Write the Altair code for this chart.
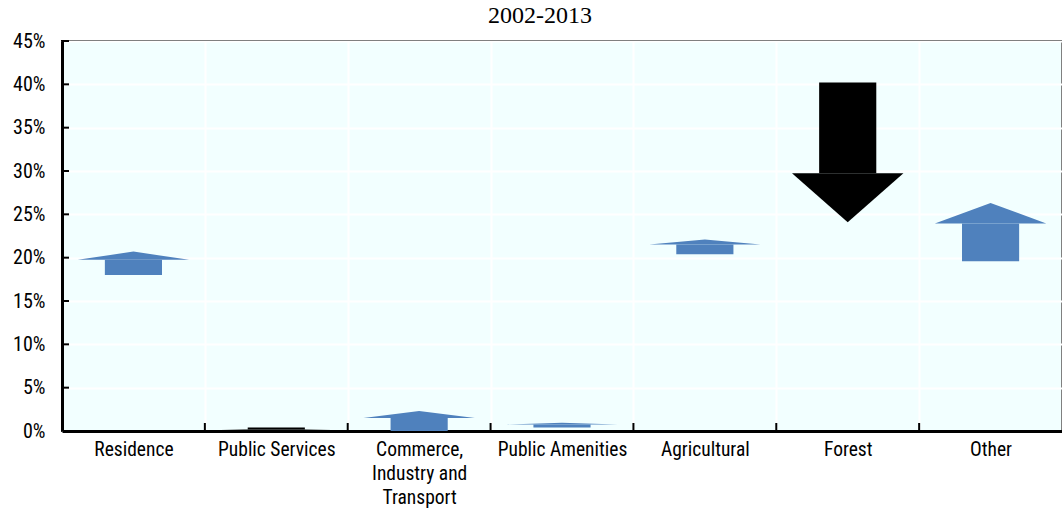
import altair as alt
import pandas as pd

# Land-use shares at the start and end of the period (percent of total area)
categories = [
    "Residence",
    "Public Services",
    "Commerce,|Industry and|Transport",
    "Public Amenities",
    "Agricultural",
    "Forest",
    "Other",
]
share_2002 = [18.0, 0.4, 0.0, 0.4, 20.4, 40.2, 19.6]
share_2013 = [20.7, 0.05, 2.3, 0.95, 22.1, 24.1, 26.3]
y_ticks = [0, 5, 10, 15, 20, 25, 30, 35, 40, 45]

HEAD_FRACTION = 0.35   # share of the arrow length taken by its head
SHAFT_HALF = 0.2       # half-width of the shaft, in category units
HEAD_HALF = 0.39       # half-width of the head, in category units
LABEL_FONT = "Liberation Sans Narrow, Arial Narrow, Roboto Condensed, Roboto"

shafts, heads = [], []
for i, (name, a, b) in enumerate(zip(categories, share_2002, share_2013)):
    a, b = a / 100, b / 100
    base = b - (b - a) * HEAD_FRACTION
    direction = "up" if b >= a else "down"
    shafts.append(dict(cat=name, x=i - SHAFT_HALF, x2=i + SHAFT_HALF,
                       y=a, y2=base, dir=direction))
    for xx, yy in [(i - HEAD_HALF, base), (i, b), (i + HEAD_HALF, base)]:
        heads.append(dict(cat=name, x=xx, y=yy, y2=base, dir=direction))

shaft_df = pd.DataFrame(shafts)
head_df = pd.DataFrame(heads)
n = len(categories)
bounds = [i + 0.5 for i in range(n - 1)]

label_list = "[" + ",".join("'" + c + "'" for c in categories) + "]"
label_expr = (
    f"datum.value % 1 == 0 ? split({label_list}[datum.value], '|') : ''"
)

x_scale = alt.Scale(domain=[-0.5, n - 0.5], nice=False, zero=False)
y_scale = alt.Scale(domain=[0, 0.45], nice=False)

color = alt.Color(
    "dir:N",
    scale=alt.Scale(domain=["up", "down"], range=["#4F81BD", "#000000"]),
    legend=None,
)

x_axis = alt.Axis(
    values=[v / 2 for v in range(-1, 2 * n)],
    labelExpr=label_expr,
    title=None,
    ticks=False,
    grid=True,
    gridColor="white",
    gridWidth=2,
    gridOpacity={"condition": {"test": "datum.value % 1 != 0", "value": 1}, "value": 0},
    domainColor="black",
    domainWidth=3,
    labelFont=LABEL_FONT,
    labelFontSize=19.5,
    labelColor="black",
    labelPadding=9,
    labelLineHeight=24,
    labelBaseline="top",
)

y_axis = alt.Axis(
    values=[v / 100 for v in y_ticks],
    format=".0%",
    title=None,
    ticks=False,
    grid=True,
    gridColor="white",
    gridWidth=2,
    domainColor="black",
    domainWidth=3,
    labelFont=LABEL_FONT,
    labelFontSize=20,
    labelColor="black",
    labelPadding=17,
)

shaft = alt.Chart(shaft_df).mark_rect().encode(
    x=alt.X("x:Q", scale=x_scale, axis=x_axis),
    x2="x2:Q",
    y=alt.Y("y:Q", scale=y_scale, axis=y_axis),
    y2="y2:Q",
    color=color,
)

head = alt.Chart(head_df).mark_area().encode(
    x=alt.X("x:Q", scale=x_scale),
    y=alt.Y("y:Q", scale=y_scale),
    y2="y2:Q",
    detail="cat:N",
    color=color,
)

# inward tick marks on both axes
y_tick_marks = alt.Chart(pd.DataFrame({"v": [v / 100 for v in y_ticks[1:]]})).mark_rule(
    color="black", strokeWidth=2
).encode(y=alt.Y("v:Q", scale=y_scale), x=alt.value(0), x2=alt.value(7))

x_tick_marks = alt.Chart(pd.DataFrame({"b": bounds})).mark_rule(
    color="black", strokeWidth=2
).encode(x=alt.X("b:Q", scale=x_scale), y=alt.value(390), y2=alt.value(382))

chart = (
    alt.layer(shaft, head, y_tick_marks, x_tick_marks)
    .properties(
        width=1000,
        height=390,
        title=alt.TitleParams(
            "2002-2013",
            font="Liberation Serif",
            fontSize=24,
            fontWeight="normal",
            color="black",
            anchor="middle",
            dx=-22,
            offset=3,
        ),
        autosize=alt.AutoSizeParams(type="none"),
        padding={"left": 62, "top": 41, "right": 0, "bottom": 78},
    )
    .configure_view(fill="#F2FFFF", stroke="black", strokeWidth=2)
)

chart.save("out.html", embed_options={"renderer": "svg", "actions": False})
